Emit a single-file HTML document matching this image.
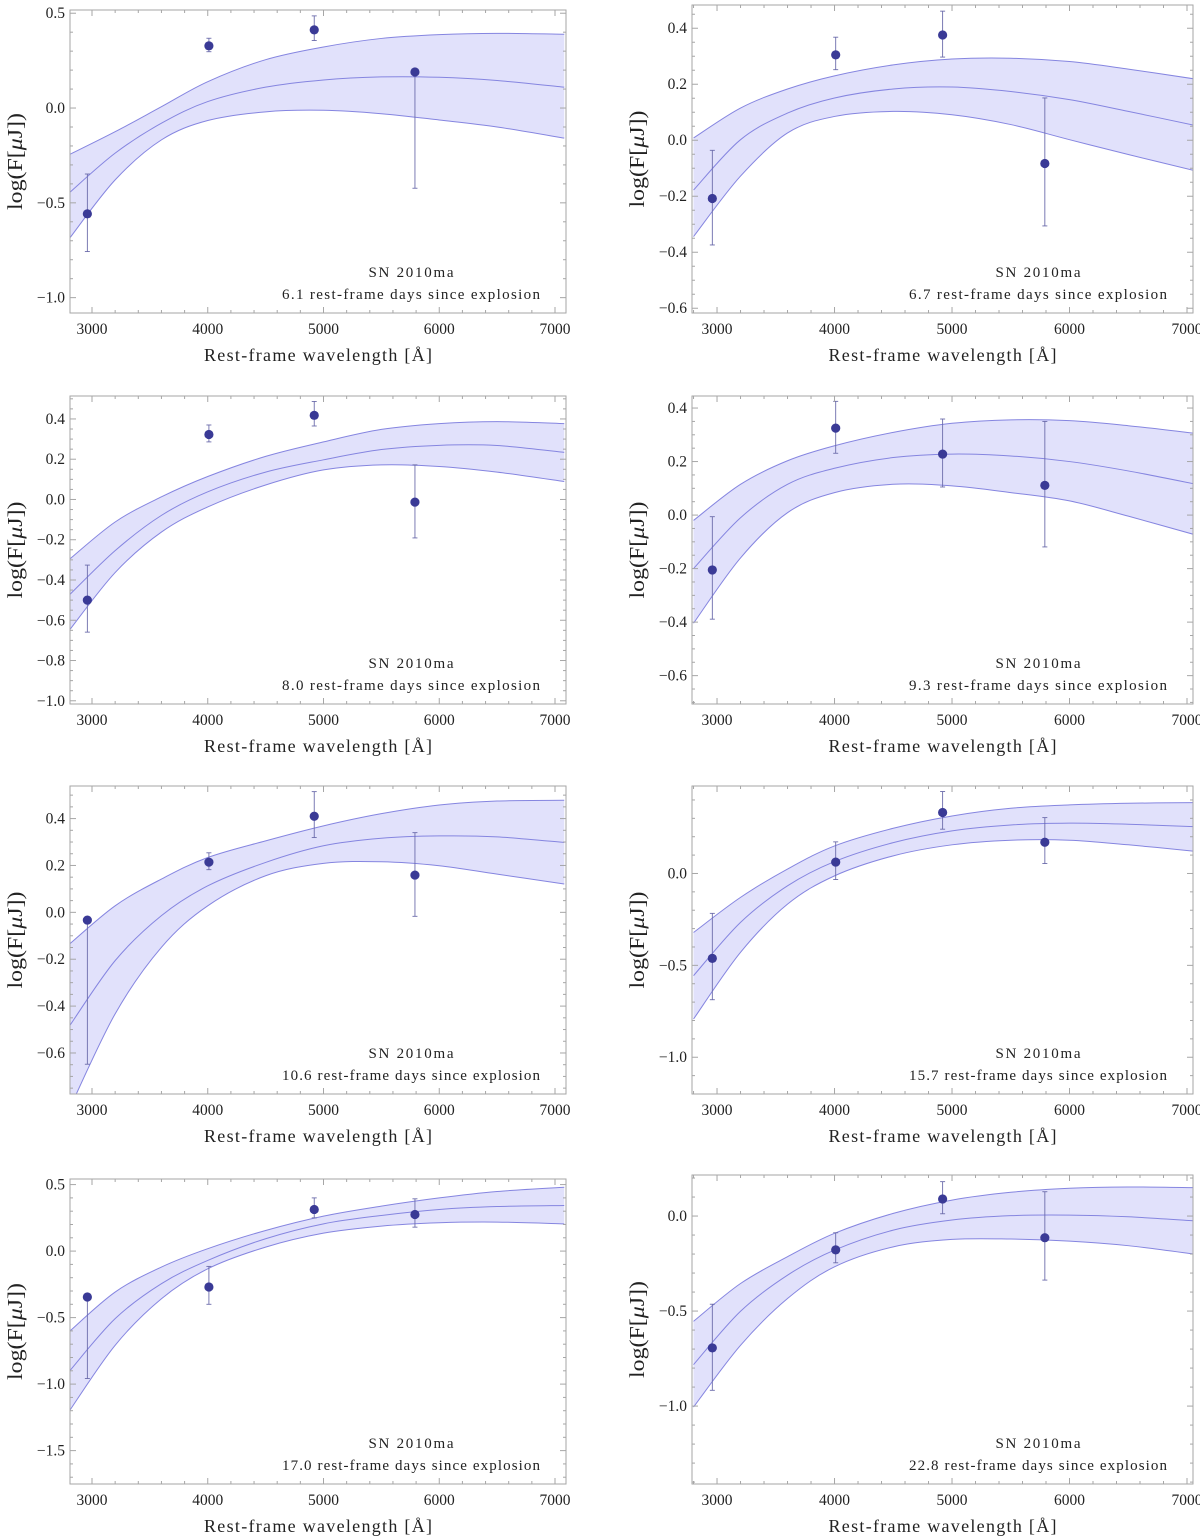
<!DOCTYPE html>
<html>
<head>
<meta charset="utf-8">
<style>
  html, body { margin: 0; padding: 0; background: #fff; }
  svg { display: block; }
  text { font-family: "Liberation Serif", "DejaVu Serif", serif; fill: #222; }
</style>
</head>
<body>
<svg id="fig" width="1200" height="1536" viewBox="0 0 1200 1536" xmlns="http://www.w3.org/2000/svg"></svg>
<script>
// ---- data ----
const wavelengths = [2960, 4010, 4920, 5790];
const curveWl = [2800, 3200, 3600, 4000, 4500, 5000, 5500, 6000, 6500, 7080];
const epochs = ["6.1", "6.7", "8.0", "9.3", "10.6", "15.7", "17.0", "22.8"];

const flux1 = [-0.558, 0.328, 0.412, 0.19];
const errLo1 = [-0.757, 0.297, 0.356, -0.423];
const errHi1 = [-0.348, 0.368, 0.486, 0.19];
const upper1 = [-0.247, -0.125, 0.007, 0.139, 0.255, 0.322, 0.367, 0.387, 0.394, 0.389];
const mid1 = [-0.449, -0.238, -0.08, 0.034, 0.11, 0.148, 0.164, 0.162, 0.145, 0.11];
const lower1 = [-0.692, -0.379, -0.168, -0.066, -0.02, -0.012, -0.03, -0.063, -0.1, -0.159];

const flux2 = [-0.208, 0.305, 0.376, -0.083];
const errLo2 = [-0.374, 0.252, 0.297, -0.306];
const errHi2 = [-0.036, 0.368, 0.461, 0.151];
const upper2 = [0.008, 0.115, 0.183, 0.23, 0.269, 0.29, 0.293, 0.281, 0.254, 0.218];
const mid2 = [-0.178, 0.002, 0.097, 0.151, 0.183, 0.19, 0.174, 0.145, 0.103, 0.052];
const lower2 = [-0.344, -0.128, 0.026, 0.085, 0.103, 0.091, 0.056, 0.002, -0.051, -0.11];

const flux3 = [-0.5, 0.323, 0.418, -0.013];
const errLo3 = [-0.659, 0.286, 0.365, -0.191];
const errHi3 = [-0.326, 0.37, 0.487, 0.172];
const upper3 = [-0.3, -0.112, 0.013, 0.114, 0.214, 0.286, 0.348, 0.377, 0.387, 0.377];
const mid3 = [-0.477, -0.254, -0.079, 0.038, 0.136, 0.197, 0.248, 0.269, 0.268, 0.234];
const lower3 = [-0.653, -0.363, -0.162, -0.037, 0.072, 0.147, 0.172, 0.164, 0.136, 0.089];

const flux4 = [-0.205, 0.325, 0.228, 0.111];
const errLo4 = [-0.389, 0.231, 0.105, -0.119];
const errHi4 = [-0.006, 0.425, 0.359, 0.35];
const upper4 = [-0.02, 0.115, 0.203, 0.259, 0.309, 0.343, 0.356, 0.353, 0.334, 0.305];
const mid4 = [-0.2, -0.01, 0.115, 0.175, 0.215, 0.228, 0.221, 0.2, 0.165, 0.115];
const lower4 = [-0.404, -0.16, 0.009, 0.084, 0.115, 0.109, 0.084, 0.053, -0.004, -0.075];

const flux5 = [-0.033, 0.214, 0.41, 0.159];
const errLo5 = [-0.648, 0.182, 0.319, -0.017];
const errHi5 = [-0.033, 0.254, 0.515, 0.34];
const upper5 = [-0.138, 0.028, 0.142, 0.234, 0.305, 0.369, 0.421, 0.458, 0.475, 0.478];
const mid5 = [-0.489, -0.206, -0.014, 0.113, 0.213, 0.284, 0.316, 0.326, 0.322, 0.298];
const lower5 = [-0.844, -0.433, -0.149, 0.028, 0.156, 0.209, 0.216, 0.199, 0.163, 0.121];

const flux6 = [-0.462, 0.062, 0.332, 0.17];
const errLo6 = [-0.687, -0.033, 0.241, 0.054];
const errHi6 = [-0.217, 0.172, 0.446, 0.304];
const upper6 = [-0.321, -0.13, 0.024, 0.15, 0.246, 0.313, 0.355, 0.373, 0.382, 0.386];
const mid6 = [-0.556, -0.266, -0.067, 0.065, 0.168, 0.232, 0.264, 0.274, 0.268, 0.254];
const lower6 = [-0.792, -0.429, -0.167, -0.013, 0.096, 0.156, 0.181, 0.181, 0.156, 0.12];

const flux7 = [-0.345, -0.27, 0.313, 0.275];
const errLo7 = [-0.958, -0.4, 0.25, 0.18];
const errHi7 = [-0.345, -0.115, 0.4, 0.393];
const upper7 = [-0.608, -0.308, -0.12, 0.018, 0.155, 0.263, 0.338, 0.4, 0.448, 0.48];
const mid7 = [-0.908, -0.508, -0.245, -0.07, 0.093, 0.205, 0.268, 0.313, 0.335, 0.343];
const lower7 = [-1.208, -0.708, -0.358, -0.133, 0.03, 0.135, 0.188, 0.213, 0.218, 0.205];

const flux8 = [-0.694, -0.178, 0.09, -0.114];
const errLo8 = [-0.917, -0.246, 0.012, -0.337];
const errHi8 = [-0.464, -0.088, 0.181, 0.128];
const upper8 = [-0.554, -0.355, -0.214, -0.091, 0.014, 0.084, 0.125, 0.146, 0.153, 0.149];
const mid8 = [-0.782, -0.501, -0.311, -0.179, -0.074, -0.021, 0.002, 0.005, -0.004, -0.026];
const lower8 = [-1.005, -0.68, -0.434, -0.267, -0.162, -0.123, -0.121, -0.132, -0.156, -0.202];

const xTicks = [3000, 4000, 5000, 6000, 7000];
const yTicks1 = [-1.0, -0.5, 0.0, 0.5];
const yTicks2 = [-0.6, -0.4, -0.2, 0.0, 0.2, 0.4];
const yTicks3 = [-1.0, -0.8, -0.6, -0.4, -0.2, 0.0, 0.2, 0.4];
const yTicks4 = [-0.6, -0.4, -0.2, 0.0, 0.2, 0.4];
const yTicks5 = [-0.6, -0.4, -0.2, 0.0, 0.2, 0.4];
const yTicks6 = [-1.0, -0.5, 0.0];
const yTicks7 = [-1.5, -1.0, -0.5, 0.0, 0.5];
const yTicks8 = [-1.0, -0.5, 0.0];

// ---- layout ----
const NS = "http://www.w3.org/2000/svg";
const svg = document.getElementById("fig");
const cols = [
  { l: 70, r: 566, d0: 2810, d1: 7095 },
  { l: 692, r: 1193, d0: 2787, d1: 7051 }
];
const panels = [
  { c: 0, t: 10, b: 313, y0: -1.081, y1: 0.517, ticks: yTicks1, minor: 0.1, f: flux1, lo: errLo1, hi: errHi1, up: upper1, md: mid1, lw: lower1 },
  { c: 1, t: 5, b: 313, y0: -0.617, y1: 0.483, ticks: yTicks2, minor: 0.05, f: flux2, lo: errLo2, hi: errHi2, up: upper2, md: mid2, lw: lower2 },
  { c: 0, t: 396, b: 704, y0: -1.016, y1: 0.514, ticks: yTicks3, minor: 0.05, f: flux3, lo: errLo3, hi: errHi3, up: upper3, md: mid3, lw: lower3 },
  { c: 1, t: 396, b: 704, y0: -0.706, y1: 0.445, ticks: yTicks4, minor: 0.05, f: flux4, lo: errLo4, hi: errHi4, up: upper4, md: mid4, lw: lower4 },
  { c: 0, t: 786, b: 1094, y0: -0.775, y1: 0.539, ticks: yTicks5, minor: 0.05, f: flux5, lo: errLo5, hi: errHi5, up: upper5, md: mid5, lw: lower5 },
  { c: 1, t: 786, b: 1094, y0: -1.2, y1: 0.476, ticks: yTicks6, minor: 0.1, f: flux6, lo: errLo6, hi: errHi6, up: upper6, md: mid6, lw: lower6 },
  { c: 0, t: 1179, b: 1484, y0: -1.751, y1: 0.542, ticks: yTicks7, minor: 0.1, f: flux7, lo: errLo7, hi: errHi7, up: upper7, md: mid7, lw: lower7 },
  { c: 1, t: 1175, b: 1484, y0: -1.41, y1: 0.216, ticks: yTicks8, minor: 0.1, f: flux8, lo: errLo8, hi: errHi8, up: upper8, md: mid8, lw: lower8 }
];

function mk(tag, attrs, parent) {
  const e = document.createElementNS(NS, tag);
  for (const k in attrs) e.setAttribute(k, attrs[k]);
  (parent || svg).appendChild(e);
  return e;
}
function fmt(v) {
  const s = Math.abs(v).toFixed(1);
  return (v < -1e-9 ? "\u2212" : "") + s;
}
function smoothPath(pts, move) {
  let d = (move ? "M" : "L") + pts[0][0].toFixed(2) + "," + pts[0][1].toFixed(2);
  for (let i = 0; i < pts.length - 1; i++) {
    const p0 = pts[Math.max(0, i - 1)], p1 = pts[i], p2 = pts[i + 1], p3 = pts[Math.min(pts.length - 1, i + 2)];
    const c1x = p1[0] + (p2[0] - p0[0]) / 6, c1y = p1[1] + (p2[1] - p0[1]) / 6;
    const c2x = p2[0] - (p3[0] - p1[0]) / 6, c2y = p2[1] - (p3[1] - p1[1]) / 6;
    d += " C" + c1x.toFixed(2) + "," + c1y.toFixed(2) + " " + c2x.toFixed(2) + "," + c2y.toFixed(2) + " " + p2[0].toFixed(2) + "," + p2[1].toFixed(2);
  }
  return d;
}

panels.forEach((p, i) => {
  const col = cols[p.c];
  const L = col.l, R = col.r, T = p.t, B = p.b;
  const xs = w => L + (w - col.d0) / (col.d1 - col.d0) * (R - L);
  const ys = v => B - (v - p.y0) / (p.y1 - p.y0) * (B - T);

  const g = mk("g", {});
  
  

  const cid = "clip" + i;
  const cp = mk("clipPath", { id: cid }, g);
  mk("rect", { x: L, y: T, width: R - L, height: B - T }, cp);

  const plot = mk("g", { "clip-path": "url(#" + cid + ")" }, g);
  
  

  const upPts = curveWl.map((w, k) => [xs(w), ys(p.up[k])]);
  const mdPts = curveWl.map((w, k) => [xs(w), ys(p.md[k])]);
  const lwPts = curveWl.map((w, k) => [xs(w), ys(p.lw[k])]);

  const band = mk("path", { d: smoothPath(upPts, true) + " " + smoothPath(lwPts.slice().reverse(), false) + " Z", fill: "#e1e1fb", stroke: "none" }, plot);
  
  

  [[upPts, 'upper-bound-curve'], [mdPts, 'model-curve'], [lwPts, 'lower-bound-curve']].forEach(([pts, nm]) => {
    const c = mk("path", { d: smoothPath(pts, true), fill: "none", stroke: "#8585e0", "stroke-width": 1 }, plot);
    
    
  });

  wavelengths.forEach((w, k) => {
    const x = xs(w);
    const eb = mk("g", { stroke: "#6c6cab", "stroke-width": 0.9 }, plot);
    
    
    mk("line", { x1: x, x2: x, y1: ys(p.lo[k]), y2: ys(p.hi[k]) }, eb);
    mk("line", { x1: x - 2.5, x2: x + 2.5, y1: ys(p.lo[k]), y2: ys(p.lo[k]) }, eb);
    mk("line", { x1: x - 2.5, x2: x + 2.5, y1: ys(p.hi[k]), y2: ys(p.hi[k]) }, eb);
    const dot = mk("circle", { cx: x, cy: ys(p.f[k]), r: 4.6, fill: "#3a3a96" }, plot);
    
    
  });

  const fr = mk("rect", { x: L, y: T, width: R - L, height: B - T, fill: "none", stroke: "#a6a6a6", "stroke-width": 1 }, g);
  
  

  const tk = mk("g", { stroke: "#a6a6a6", "stroke-width": 1 }, g);
  
  
  for (let w = 2800; w <= 7200; w += 200) {
    const x = xs(w);
    if (x < L || x > R) continue;
    const len = (w % 1000 === 0) ? 6 : 3;
    mk("line", { x1: x, x2: x, y1: B, y2: B - len }, tk);
    mk("line", { x1: x, x2: x, y1: T, y2: T + len }, tk);
  }
  const step = p.minor;
  for (let v = Math.ceil(p.y0 / step) * step; v <= p.y1 + 1e-9; v += step) {
    const y = ys(v);
    const major = p.ticks.some(t => Math.abs(t - v) < 1e-6);
    const len = major ? 6 : 3;
    mk("line", { x1: L, x2: L + len, y1: y, y2: y }, tk);
    mk("line", { x1: R, x2: R - len, y1: y, y2: y }, tk);
  }

  xTicks.forEach(w => {
    const t = mk("text", { x: xs(w), y: B + 21, "font-size": 15.5, "text-anchor": "middle" }, g);
    t.textContent = String(w);
    
    
  });
  p.ticks.forEach(v => {
    const t = mk("text", { x: L - 5, y: ys(v) + 5, "font-size": 15.5, "text-anchor": "end" }, g);
    t.textContent = fmt(v);
    
    
  });

  const xt = mk("text", { x: (L + R) / 2, y: B + 48, "font-size": 18, "text-anchor": "middle", textLength: 228, lengthAdjust: "spacing" }, g);
  xt.textContent = "Rest-frame wavelength [\u00C5]";
  
  

  const yc = (T + B) / 2;
  const yx = p.c === 0 ? 22 : 644;
  const yt = mk("text", { x: 0, y: 0, "font-size": 21, "text-anchor": "middle", textLength: 97, lengthAdjust: "spacingAndGlyphs", transform: "translate(" + yx + "," + yc + ") rotate(-90)" }, g);
  
  
  const s1 = mk("tspan", {}, yt); s1.textContent = "log(F[";
  const s2 = mk("tspan", { "font-style": "italic" }, yt); s2.textContent = "\u03BC";
  const s3 = mk("tspan", {}, yt); s3.textContent = "J])";

  const ax = R - 155;
  const a1 = mk("text", { x: ax, y: B - 36, "font-size": 15, "text-anchor": "middle", textLength: 85, lengthAdjust: "spacing" }, g);
  a1.textContent = "SN 2010ma";
  
  
  const a2 = mk("text", { x: ax, y: B - 14, "font-size": 15, "text-anchor": "middle", textLength: 258, lengthAdjust: "spacing" }, g);
  a2.textContent = epochs[i] + " rest-frame days since explosion";
  
  
});
</script>
</body>
</html>
